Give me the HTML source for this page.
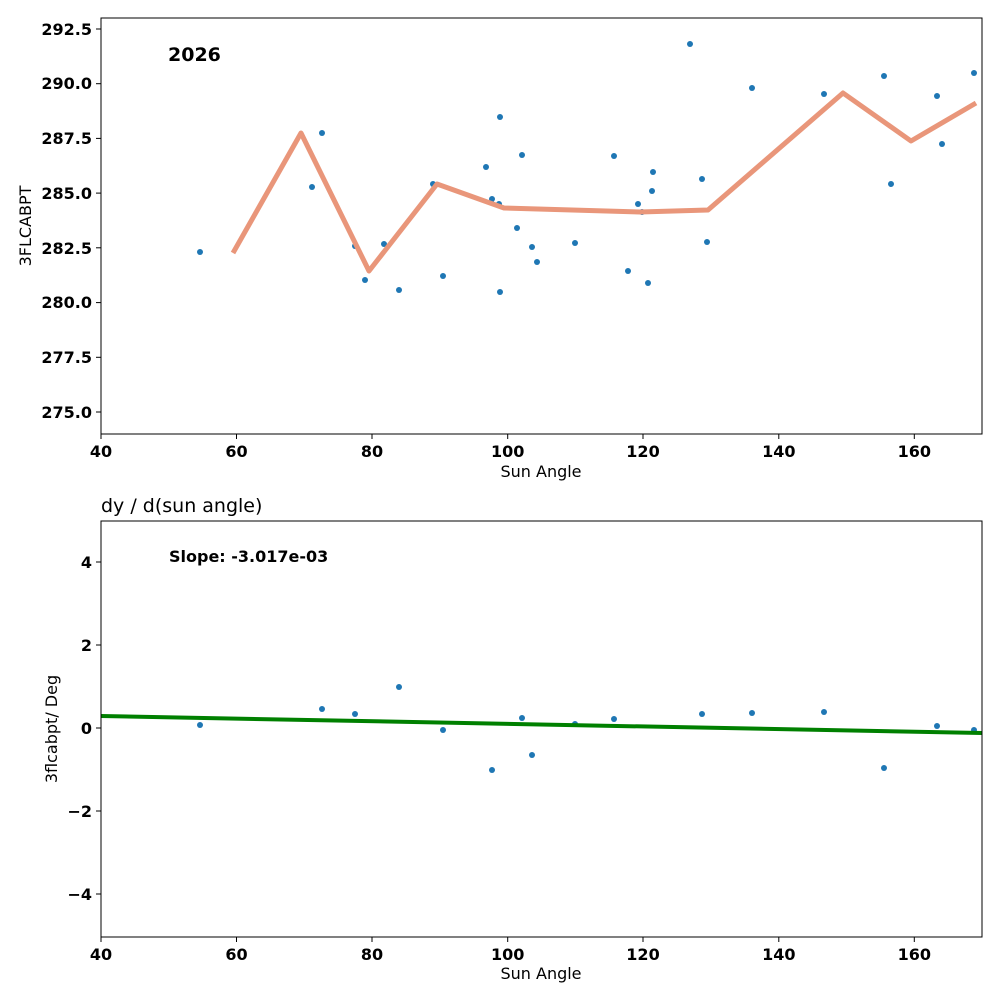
<!DOCTYPE html>
<html><head><meta charset="utf-8"><style>body{margin:0;background:#fff}svg{display:block}text{font-family:"DejaVu Sans","Liberation Sans",sans-serif}</style></head>
<body>
<svg width="1000" height="1000" xmlns="http://www.w3.org/2000/svg">
<rect width="1000" height="1000" fill="#fff"/>
<!-- top -->
<g fill="#1f77b4">
<circle cx="200" cy="252" r="3"/><circle cx="312" cy="187" r="3"/><circle cx="322" cy="133" r="3"/><circle cx="355" cy="246" r="3"/><circle cx="365" cy="280" r="3"/><circle cx="384" cy="244" r="3"/><circle cx="399" cy="290" r="3"/><circle cx="433" cy="184" r="3"/><circle cx="443" cy="276" r="3"/><circle cx="486" cy="167" r="3"/><circle cx="492" cy="199" r="3"/><circle cx="499" cy="204" r="3"/><circle cx="500" cy="117" r="3"/><circle cx="500" cy="292" r="3"/><circle cx="517" cy="228" r="3"/><circle cx="522" cy="155" r="3"/><circle cx="532" cy="247" r="3"/><circle cx="537" cy="262" r="3"/><circle cx="575" cy="243" r="3"/><circle cx="614" cy="156" r="3"/><circle cx="628" cy="271" r="3"/><circle cx="638" cy="204" r="3"/><circle cx="642" cy="212" r="3"/><circle cx="648" cy="283" r="3"/><circle cx="652" cy="191" r="3"/><circle cx="653" cy="172" r="3"/><circle cx="690" cy="44" r="3"/><circle cx="702" cy="179" r="3"/><circle cx="707" cy="242" r="3"/><circle cx="752" cy="88" r="3"/><circle cx="824" cy="94" r="3"/><circle cx="884" cy="76" r="3"/><circle cx="891" cy="184" r="3"/><circle cx="937" cy="96" r="3"/><circle cx="942" cy="144" r="3"/><circle cx="974" cy="73" r="3"/>
</g>
<polyline points="233,253 301,133 369,271 437,184 504,208 572,210 640,212 708,210 843,93 911,141 976,103" fill="none" stroke="#e9967a" stroke-width="5" stroke-linejoin="round"/>
<rect x="101" y="18" width="881" height="416" fill="none" stroke="#000" stroke-width="1"/>
<g stroke="#000"><line x1="101" y1="434" x2="101" y2="439"/><line x1="236.5" y1="434" x2="236.5" y2="439"/><line x1="372" y1="434" x2="372" y2="439"/><line x1="507.7" y1="434" x2="507.7" y2="439"/><line x1="643" y1="434" x2="643" y2="439"/><line x1="778.8" y1="434" x2="778.8" y2="439"/><line x1="914.3" y1="434" x2="914.3" y2="439"/>
<line x1="96" y1="412" x2="101" y2="412"/><line x1="96" y1="357.3" x2="101" y2="357.3"/><line x1="96" y1="302.6" x2="101" y2="302.6"/><line x1="96" y1="247.8" x2="101" y2="247.8"/><line x1="96" y1="193.1" x2="101" y2="193.1"/><line x1="96" y1="138.4" x2="101" y2="138.4"/><line x1="96" y1="83.7" x2="101" y2="83.7"/><line x1="96" y1="29" x2="101" y2="29"/></g>
<g font-size="16" font-weight="bold" text-anchor="middle"><text x="101" y="457">40</text><text x="236.5" y="457">60</text><text x="372" y="457">80</text><text x="507.7" y="457">100</text><text x="643" y="457">120</text><text x="778.8" y="457">140</text><text x="914.3" y="457">160</text></g>
<g font-size="16" font-weight="bold" text-anchor="end"><text x="92" y="418">275.0</text><text x="92" y="363">277.5</text><text x="92" y="308">280.0</text><text x="92" y="254">282.5</text><text x="92" y="199">285.0</text><text x="92" y="144">287.5</text><text x="92" y="89">290.0</text><text x="92" y="35">292.5</text></g>
<text x="541" y="477" font-size="16" text-anchor="middle">Sun Angle</text>
<text transform="translate(31,226) rotate(-90)" font-size="16" text-anchor="middle">3FLCABPT</text>
<text x="168" y="61" font-size="19" font-weight="bold">2026</text>
<!-- bottom -->
<text x="101" y="512" font-size="19">dy / d(sun angle)</text>
<g fill="#1f77b4">
<circle cx="200" cy="725" r="3"/><circle cx="322" cy="709" r="3"/><circle cx="355" cy="714" r="3"/><circle cx="399" cy="687" r="3"/><circle cx="443" cy="730" r="3"/><circle cx="492" cy="770" r="3"/><circle cx="522" cy="718" r="3"/><circle cx="532" cy="755" r="3"/><circle cx="575" cy="724" r="3"/><circle cx="614" cy="719" r="3"/><circle cx="702" cy="714" r="3"/><circle cx="752" cy="713" r="3"/><circle cx="824" cy="712" r="3"/><circle cx="884" cy="768" r="3"/><circle cx="937" cy="726" r="3"/><circle cx="974" cy="730" r="3"/>
</g>
<line x1="101" y1="716" x2="982" y2="733" stroke="#008000" stroke-width="4"/>
<rect x="101" y="521" width="881" height="416" fill="none" stroke="#000" stroke-width="1"/>
<g stroke="#000"><line x1="101" y1="937" x2="101" y2="942"/><line x1="236.5" y1="937" x2="236.5" y2="942"/><line x1="372" y1="937" x2="372" y2="942"/><line x1="507.7" y1="937" x2="507.7" y2="942"/><line x1="643" y1="937" x2="643" y2="942"/><line x1="778.8" y1="937" x2="778.8" y2="942"/><line x1="914.3" y1="937" x2="914.3" y2="942"/>
<line x1="96" y1="894" x2="101" y2="894"/><line x1="96" y1="811" x2="101" y2="811"/><line x1="96" y1="728" x2="101" y2="728"/><line x1="96" y1="645" x2="101" y2="645"/><line x1="96" y1="562" x2="101" y2="562"/></g>
<g font-size="16" font-weight="bold" text-anchor="middle"><text x="101" y="960">40</text><text x="236.5" y="960">60</text><text x="372" y="960">80</text><text x="507.7" y="960">100</text><text x="643" y="960">120</text><text x="778.8" y="960">140</text><text x="914.3" y="960">160</text></g>
<g font-size="16" font-weight="bold" text-anchor="end"><text x="92" y="900">−4</text><text x="92" y="817">−2</text><text x="92" y="734">0</text><text x="92" y="651">2</text><text x="92" y="568">4</text></g>
<text x="541" y="979" font-size="16" text-anchor="middle">Sun Angle</text>
<text transform="translate(57,729) rotate(-90)" font-size="16" text-anchor="middle">3flcabpt/ Deg</text>
<text x="169" y="562" font-size="16" font-weight="bold">Slope: -3.017e-03</text>
</svg>
</body></html>
